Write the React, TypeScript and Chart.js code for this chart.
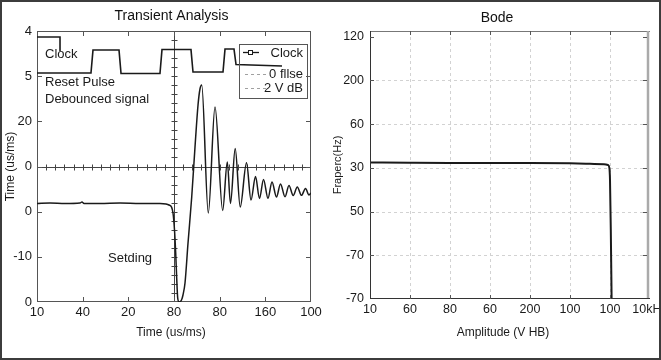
import React, { useEffect, useRef } from "react";
import { Chart, registerables } from "chart.js";

Chart.register(...registerables);

const FONT = "'Liberation Sans', Arial, Helvetica, sans-serif";
const INK = "#1a1a1a";

// ---------- Left panel: Transient Analysis (positions in axis divisions 0..6) ----------
const transientTitle = "Transient Analysis";
const transientXTitle = "Time (us/ms)";
const transientYTitle = "Time (us/ms)";
const transientXTicks = ["10", "40", "20", "80", "80", "160", "100"];
const transientYTicks = ["0", "-10", "0", "0", "20", "5", "4"]; // bottom -> top

const clockX = [0, 1.182, 1.226, 1.796, 1.84, 2.693, 2.737, 3.372, 3.416, 4.073, 4.117, 4.314, 4.358, 5.365];
const clockY = [5.07, 5.07, 5.578, 5.578, 5.059, 5.059, 5.589, 5.589, 5.092, 5.092, 5.6, 5.6, 5.257, 5.224];

const clockStartX = [0, 0.504, 0.504];
const clockStartY = [5.867, 5.867, 5.557];

const responseX = [
  0, 0.285, 0.613, 0.942, 0.985, 1.029, 1.38, 1.818, 2.256, 2.693,
  2.825, 2.891, 2.945, 2.978, 3.011, 3.037, 3.059, 3.081, 3.11, 3.164,
  3.197, 3.241, 3.307, 3.388, 3.46, 3.526, 3.569, 3.607, 3.751, 3.898,
  4.066, 4.167, 4.237, 4.34, 4.45, 4.588, 4.686, 4.785, 4.872, 4.96,
  5.058, 5.146, 5.244, 5.332, 5.431, 5.518, 5.61, 5.7, 5.792, 5.88,
  5.956, 6.0,
];
const responseY = [
  2.181, 2.192, 2.181, 2.192, 2.214, 2.181, 2.181, 2.192, 2.181, 2.181,
  2.17, 2.148, 2.104, 1.97, 1.594, 1.085, 0.531, 0.089, 0, 0.044,
  0.155, 0.421, 1.306, 2.325, 3.432, 4.362, 4.716, 4.804, 1.97, 4.317,
  2.026, 3.099, 2.181, 3.399, 2.104, 3.084, 2.258, 2.779, 2.292, 2.712,
  2.296, 2.657, 2.325, 2.613, 2.331, 2.58, 2.358, 2.547, 2.362, 2.514,
  2.37, 2.414,
];

const legendLabels = ["Clock", "0 fllse", "2 V dB"];
const noteLabels = ["Clock", "Reset Pulse", "Debounced signal", "Setding"];

// ---------- Right panel: Bode ----------
const bodeTitle = "Bode";
const bodeXTitle = "Amplitude (V HB)";
const bodeYTitle = "Fraperc(Hz)";
const bodeXTicks = ["10", "60", "80", "60", "200", "100", "100", "10kHz"];
const bodeYTicks = ["-70", "-70", "50", "30", "60", "200", "120"]; // bottom -> top

const bodeX = [0, 1, 2, 3, 4, 5, 5.5, 5.85, 5.95, 5.985, 6.0, 6.02, 6.04];
const bodeY = [3.122, 3.115, 3.111, 3.111, 3.111, 3.104, 3.092, 3.081, 3.065, 2.996, 2.722, 1.578, 0];

const pts = (xs: number[], ys: number[]) => xs.map((x, i) => ({ x, y: ys[i] }));

function txt(ctx: CanvasRenderingContext2D, s: string, x: number, y: number, size: number, align: CanvasTextAlign = "left", color = INK) {
  ctx.font = `${size}px ${FONT}`;
  ctx.fillStyle = color;
  ctx.textAlign = align;
  ctx.textBaseline = "middle";
  ctx.fillText(s, x, y);
}

const integerTicks = (n: number) => (s: any) => {
  s.ticks = Array.from({ length: n + 1 }, (_, i) => ({ value: i }));
};

const leftDecor = {
  id: "leftDecor",
  beforeDatasetsDraw(chart: any) {
    const { ctx, chartArea: a, scales } = chart;
    const x = scales.x, y = scales.y;
    ctx.save();
    ctx.lineWidth = 1;
    // crosshair with minor ticks
    const cx = Math.round(x.getPixelForValue(3)) + 0.5;
    const cy = Math.round(y.getPixelForValue(3)) + 0.5;
    ctx.strokeStyle = "#444";
    ctx.beginPath();
    ctx.moveTo(cx, a.top); ctx.lineTo(cx, a.bottom);
    ctx.moveTo(a.left, cy); ctx.lineTo(a.right, cy);
    for (let i = 1; i < 30; i++) {
      const px = Math.round(x.getPixelForValue(i / 5)) + 0.5;
      ctx.moveTo(px, cy - 3); ctx.lineTo(px, cy + 3);
      const py = Math.round(y.getPixelForValue(i / 5)) + 0.5;
      ctx.moveTo(cx - 3, py); ctx.lineTo(cx + 3, py);
    }
    ctx.stroke();
    // frame
    ctx.strokeStyle = "#555";
    ctx.strokeRect(a.left + 0.5, a.top + 0.5, a.right - a.left - 1, a.bottom - a.top - 1);
    // inward major ticks
    ctx.beginPath();
    for (let i = 1; i < 6; i++) {
      const px = Math.round(x.getPixelForValue(i)) + 0.5;
      ctx.moveTo(px, a.top); ctx.lineTo(px, a.top + 5);
      ctx.moveTo(px, a.bottom); ctx.lineTo(px, a.bottom - 5);
      const py = Math.round(y.getPixelForValue(i)) + 0.5;
      ctx.moveTo(a.left, py); ctx.lineTo(a.left + 5, py);
      ctx.moveTo(a.right, py); ctx.lineTo(a.right - 5, py);
    }
    ctx.stroke();
    ctx.restore();
  },
  afterDatasetsDraw(chart: any) {
    const { ctx, chartArea: a } = chart;
    ctx.save();
    // titles
    txt(ctx, transientTitle, 171.5, 16, 14, "center", "#111");
    txt(ctx, transientXTitle, 171, 333, 12, "center");
    // annotations
    txt(ctx, noteLabels[0], a.left + 8, a.top + 23, 13);
    txt(ctx, noteLabels[1], a.left + 8, a.top + 51, 13);
    txt(ctx, noteLabels[2], a.left + 8, a.top + 68, 13);
    txt(ctx, noteLabels[3], a.left + 71, a.top + 227, 13);
    // legend
    const bx = a.left + 202, by = a.top + 13;
    ctx.strokeStyle = "#555";
    ctx.lineWidth = 1;
    ctx.strokeRect(bx + 0.5, by + 0.5, 68, 54);
    const tx = bx + 64;
    // entry 1: solid line with square marker
    ctx.strokeStyle = INK;
    ctx.lineWidth = 1.3;
    ctx.beginPath();
    ctx.moveTo(bx + 4, by + 8.5); ctx.lineTo(bx + 20, by + 8.5);
    ctx.stroke();
    ctx.fillStyle = "#fff";
    ctx.lineWidth = 1;
    ctx.fillRect(bx + 9.5, by + 6.5, 4, 4);
    ctx.strokeRect(bx + 9.5, by + 6.5, 4, 4);
    txt(ctx, legendLabels[0], tx, by + 9, 13, "right");
    // entries 2, 3: dashed
    ctx.strokeStyle = "#a0a0a0";
    ctx.setLineDash([3, 3]);
    ctx.beginPath();
    ctx.moveTo(bx + 6, by + 30.5); ctx.lineTo(bx + 28, by + 30.5);
    ctx.moveTo(bx + 6, by + 44.5); ctx.lineTo(bx + 28, by + 44.5);
    ctx.stroke();
    ctx.setLineDash([]);
    txt(ctx, legendLabels[1], tx, by + 30, 13, "right");
    txt(ctx, legendLabels[2], tx, by + 44, 13, "right");
    ctx.restore();
  },
};

const rightDecor = {
  id: "rightDecor",
  beforeDatasetsDraw(chart: any) {
    const { ctx, chartArea: a, scales } = chart;
    const x = scales.x, y = scales.y;
    ctx.save();
    ctx.strokeStyle = "#d2d2d2";
    ctx.lineWidth = 1;
    ctx.setLineDash([3, 3]);
    ctx.beginPath();
    for (let i = 1; i < 7; i++) {
      const px = Math.round(x.getPixelForValue(i)) + 0.5;
      ctx.moveTo(px, a.top); ctx.lineTo(px, a.bottom);
    }
    for (let i = 1; i < 6; i++) {
      const py = Math.round(y.getPixelForValue(i)) + 0.5;
      ctx.moveTo(a.left, py); ctx.lineTo(a.right, py);
    }
    ctx.stroke();
    ctx.setLineDash([]);
    ctx.restore();
  },
  afterDatasetsDraw(chart: any) {
    const { ctx, chartArea: a, scales } = chart;
    const x = scales.x, y = scales.y;
    ctx.save();
    ctx.lineWidth = 1;
    // top
    ctx.strokeStyle = "#777";
    ctx.beginPath();
    ctx.moveTo(a.left, a.top + 0.5); ctx.lineTo(a.right, a.top + 0.5);
    ctx.stroke();
    // right (light, thick)
    ctx.strokeStyle = "#aaa";
    ctx.lineWidth = 2.5;
    ctx.beginPath();
    ctx.moveTo(a.right - 2, a.top); ctx.lineTo(a.right - 2, a.bottom);
    ctx.stroke();
    // left & bottom
    ctx.lineWidth = 1;
    ctx.strokeStyle = "#333";
    ctx.beginPath();
    ctx.moveTo(a.left + 0.5, a.top); ctx.lineTo(a.left + 0.5, a.bottom);
    ctx.moveTo(a.left, a.bottom - 0.5); ctx.lineTo(a.right, a.bottom - 0.5);
    ctx.stroke();
    // ticks
    ctx.strokeStyle = "#555";
    ctx.beginPath();
    for (let i = 1; i < 7; i++) {
      const px = Math.round(x.getPixelForValue(i)) + 0.5;
      ctx.moveTo(px, a.top); ctx.lineTo(px, a.top + 4);
      ctx.moveTo(px, a.bottom); ctx.lineTo(px, a.bottom - 4);
    }
    for (let i = 1; i < 7; i++) {
      const py = Math.round(y.getPixelForValue(i)) + 0.5;
      ctx.moveTo(a.left, py); ctx.lineTo(a.left + 4, py);
      ctx.moveTo(a.right - 3, py); ctx.lineTo(a.right - 7, py);
    }
    ctx.stroke();
    txt(ctx, bodeTitle, 497, 18, 14, "center", "#111");
    txt(ctx, bodeXTitle, 503, 333, 12, "center");
    ctx.restore();
  },
};

function leftConfig(): any {
  return {
    type: "line",
    data: {
      datasets: [
        { label: "Clock", data: pts(clockX, clockY), borderColor: INK, borderWidth: 1.6, pointRadius: 0, tension: 0 },
        { label: "Clock (start)", data: pts(clockStartX, clockStartY), borderColor: INK, borderWidth: 1.6, pointRadius: 0, tension: 0 },
        { label: "Response", data: pts(responseX, responseY), borderColor: INK, borderWidth: 1.5, pointRadius: 0, cubicInterpolationMode: "monotone" },
      ],
    },
    options: {
      animation: false,
      responsive: false,
      events: [],
      layout: { padding: { left: 0, top: 31, right: 350, bottom: 0 } },
      plugins: { legend: { display: false }, title: { display: false }, tooltip: { enabled: false } },
      scales: {
        x: {
          type: "linear", min: 0, max: 6,
          afterBuildTicks: integerTicks(6),
          afterFit: (s: any) => { s.height = 58; s.paddingLeft = 0; s.paddingRight = 0; },
          grid: { display: false, drawTicks: false },
          border: { display: false },
          ticks: { callback: (v: number) => transientXTicks[v], font: { family: FONT, size: 13 }, color: INK, padding: 3, maxRotation: 0, autoSkip: false },
        },
        y: {
          type: "linear", min: 0, max: 6,
          afterBuildTicks: integerTicks(6),
          afterFit: (s: any) => { s.width = 37; },
          grid: { display: false, drawTicks: false },
          border: { display: false },
          ticks: { callback: (v: number) => transientYTicks[v], font: { family: FONT, size: 13 }, color: INK, padding: 5, autoSkip: false },
          title: { display: true, text: transientYTitle, font: { family: FONT, size: 12 }, color: INK, padding: { top: 3, bottom: 0 } },
        },
      },
    },
    plugins: [leftDecor],
  };
}

function rightConfig(): any {
  return {
    type: "line",
    data: {
      datasets: [
        { label: "Bode", data: pts(bodeX, bodeY), borderColor: INK, borderWidth: 2, pointRadius: 0, cubicInterpolationMode: "monotone" },
      ],
    },
    options: {
      animation: false,
      responsive: false,
      events: [],
      layout: { padding: { left: 327, top: 31, right: 11, bottom: 0 } },
      plugins: { legend: { display: false }, title: { display: false }, tooltip: { enabled: false } },
      scales: {
        x: {
          type: "linear", min: 0, max: 7,
          afterBuildTicks: integerTicks(7),
          afterFit: (s: any) => { s.height = 61; s.paddingLeft = 0; s.paddingRight = 0; },
          grid: { display: false, drawTicks: false },
          border: { display: false },
          ticks: { callback: (v: number) => bodeXTicks[v], font: { family: FONT, size: 12.5 }, color: INK, padding: 3, maxRotation: 0, autoSkip: false },
        },
        y: {
          type: "linear", min: 0, max: 6.13,
          afterBuildTicks: integerTicks(6),
          afterFit: (s: any) => { s.width = 43; },
          grid: { display: false, drawTicks: false },
          border: { display: false },
          ticks: { callback: (v: number) => bodeYTicks[v], font: { family: FONT, size: 12.5 }, color: INK, padding: 6, autoSkip: false },
          title: { display: true, text: bodeYTitle, font: { family: FONT, size: 11 }, color: INK, padding: { top: 4, bottom: 0 } },
        },
      },
    },
    plugins: [rightDecor],
  };
}

export default function App() {
  const leftRef = useRef<HTMLCanvasElement>(null);
  const rightRef = useRef<HTMLCanvasElement>(null);
  useEffect(() => {
    const l = new Chart(leftRef.current as HTMLCanvasElement, leftConfig());
    const r = new Chart(rightRef.current as HTMLCanvasElement, rightConfig());
    return () => {
      l.destroy();
      r.destroy();
    };
  }, []);
  return (
    <div style={{ position: "fixed", left: 0, top: 0, width: 661, height: 360, background: "#fff", overflow: "hidden" }}>
      <canvas ref={leftRef} width={661} height={360} style={{ position: "absolute", left: 0, top: 0 }} />
      <canvas ref={rightRef} width={661} height={360} style={{ position: "absolute", left: 0, top: 0 }} />
      <div style={{ position: "absolute", left: 0, top: 0, width: 661, height: 360, border: "2px solid #3c3c3c", boxSizing: "border-box", pointerEvents: "none" }} />
    </div>
  );
}
